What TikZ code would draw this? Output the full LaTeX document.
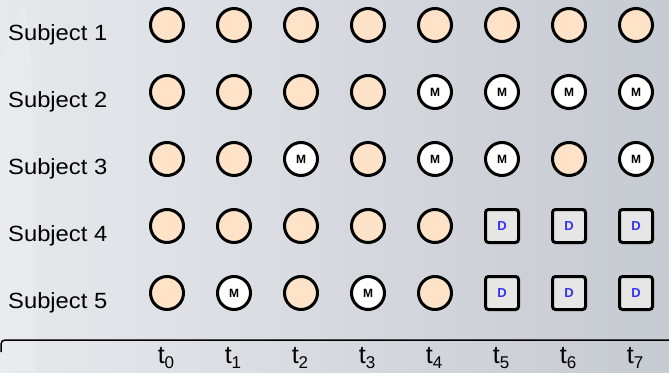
\documentclass[tikz,border=0pt]{standalone}
\usepackage{fontspec}
\setmainfont{Liberation Sans}
\usetikzlibrary{calc}
\definecolor{peach}{HTML}{FFE3C8}
\definecolor{dgray}{HTML}{E6E6E6}
\definecolor{dblue}{HTML}{3333F0}
\definecolor{bgL}{HTML}{E6E9EC}
\definecolor{bgR}{HTML}{C6CAD1}
\tikzset{
  obs/.style={circle,draw=black,line width=3pt,fill=peach,minimum size=33pt,inner sep=0pt},
  miss/.style={circle,draw=black,line width=3pt,fill=white,minimum size=33pt,inner sep=0pt,font=\bfseries\fontsize{12}{12}\selectfont},
  drop/.style={rectangle,rounded corners=3pt,draw=black,line width=3pt,fill=dgray,minimum size=33pt,inner sep=0pt,text=dblue,font=\bfseries\fontsize{13}{13}\selectfont},
  subj/.style={anchor=base west,font=\fontsize{22}{22}\selectfont,inner sep=0pt},
  tlab/.style={anchor=base,font=\fontsize{25}{25}\selectfont,inner sep=0pt}
}
\newcommand{\tsub}[1]{t\raisebox{-5pt}{\fontsize{17}{17}\selectfont #1}}
\begin{document}
\begin{tikzpicture}[x=1pt,y=-1pt]
\useasboundingbox (0,0) rectangle (669,372);
\shade[left color=bgL,right color=bgR] (0,0) rectangle (669,372);
\fill[white,opacity=0.15] (25,0) .. controls (40,120) and (30,250) .. (35,372) -- (0,372) -- (0,60) -- cycle;
% subject labels
\foreach \r/\y in {1/25,2/92,3/159,4/226,5/293}{
  \node[subj] (s\r) at (8,\y+15) {\scalebox{1.08}[1]{Subject \r}};
}
% states: o=observed, m=missing, d=dropout
\foreach \r/\y/\lst in {1/25/{o,o,o,o,o,o,o,o},2/92/{o,o,o,o,m,m,m,m},3/159/{o,o,m,o,m,m,o,m},4/226/{o,o,o,o,o,d,d,d},5/293/{o,m,o,m,o,d,d,d}}{
  \foreach \s [count=\c from 0] in \lst {
    \pgfmathsetmacro{\xx}{167+67*\c}
    \if o\s \node[obs] (n\r-\c) at (\xx,\y) {};\fi
    \if m\s \node[miss] (n\r-\c) at (\xx,\y) {M};\fi
    \if d\s \node[drop] (n\r-\c) at (\xx,\y) {D};\fi
  }
}
% axis line
\coordinate (la) at (1,352);
\coordinate (lb) at (669,340);
\draw[line width=1.5pt,rounded corners=4pt] (la) |- (lb);
\foreach \c in {0,...,7}{
  \pgfmathsetmacro{\xx}{166+67*\c}
  \node[tlab] (t\c) at (\xx,363) {\tsub{\c}};
}
\end{tikzpicture}
\end{document}
